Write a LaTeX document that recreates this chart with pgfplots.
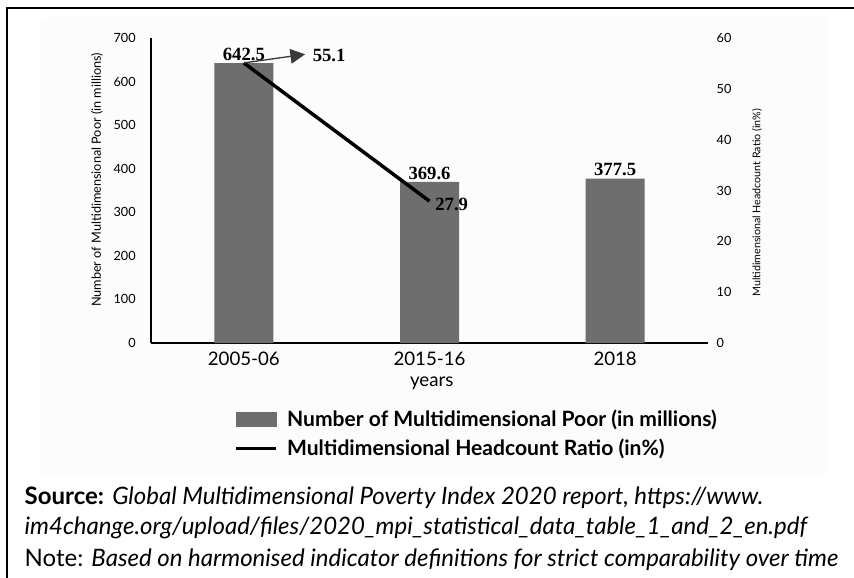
\documentclass[border=0pt]{standalone}
\usepackage{pgfplots}
\pgfplotsset{compat=1.18}
\usepackage{fontspec}
\setmainfont{Lato}
\newfontfamily\serifb{Liberation Serif}
\usetikzlibrary{arrows.meta}
\definecolor{barcol}{HTML}{6E6E6E}
\definecolor{arrcol}{HTML}{3A3A3A}
\begin{document}
\begin{tikzpicture}
\path[use as bounding box] (0,0) rectangle (640.5pt,-433.5pt);
% faint chart area
\fill[black!1, rounded corners=4pt] (30pt,-12.75pt) rectangle (621pt,-356.25pt);
% frame (top and left)
\draw[line width=2.2pt] (5.25pt,-434pt) -- (5.25pt,-6pt) -- (641pt,-6pt);
\begin{axis}[
  at={(113.25pt,-257.25pt)}, anchor=south west,
  scale only axis, width=417.75pt, height=228.75pt,
  xmin=-0.5, xmax=2.5, ymin=0, ymax=700,
  axis x line*=bottom, axis y line*=left,
  axis line style={line width=0.9pt, -},
  xtick={0,1,2}, xticklabels={2005-06,2015-16,2018},
  ytick={0,100,...,700},
  major tick length=0pt,
  /pgf/number format/assume math mode=true,
  xticklabel style={font=\fontsize{14}{16}\selectfont, yshift=-3pt},
  yticklabel style={font=\fontsize{9.5}{11}\selectfont, xshift=-8pt},
  xlabel={years},
  xlabel style={font=\fontsize{14}{16}\selectfont, at={(axis description cs:0.504,-0.132)}, anchor=center},
  ylabel={Number of Multidimensional Poor (in millions)},
  ylabel style={font=\fontsize{9.5}{11}\selectfont, at={(axis description cs:-0.097,0.535)}, anchor=center, rotate=0},
  legend style={at={(axis description cs:0.585,-0.21)}, anchor=north, draw=none, fill=none,
    font=\bfseries\fontsize{15.8}{17}\selectfont, row sep=4pt, column sep=5pt, inner sep=0pt},
  legend cell align=left,
]
\addplot[ybar, bar width=44.25pt, fill=barcol, draw=none, forget plot,
  nodes near coords, nodes near coords style={font=\serifb\bfseries\fontsize{14}{16}\selectfont, anchor=south, inner sep=1.5pt, text=black},
  point meta=explicit symbolic]
  coordinates {(0,642.5)[642.5] (1,369.6)[369.6] (2,377.5)[377.5]};
\addlegendimage{legend image code/.code={\fill[barcol] (0pt,-4.9pt) rectangle (30pt,4.9pt);}}
\addlegendentry{Number of Multidimensional Poor (in millions)}
\addlegendimage{legend image code/.code={\draw[line width=2.6pt, black] (0pt,0pt) -- (30pt,0pt);}}
\addlegendentry{Multidimensional Headcount Ratio (in\%)}
\end{axis}
\begin{axis}[
  at={(113.25pt,-257.25pt)}, anchor=south west,
  scale only axis, width=417.75pt, height=228.75pt,
  xmin=-0.5, xmax=2.5, ymin=0, ymax=60,
  axis y line*=right, axis x line=none,
  y axis line style={draw=none},
  ytick={0,10,...,60},
  major tick length=0pt,
  /pgf/number format/assume math mode=true,
  yticklabel style={font=\fontsize{9.5}{11}\selectfont, xshift=3pt},
  ylabel={Multidimensional Headcount Ratio (in\%)},
  ylabel style={font=\fontsize{8}{10}\selectfont, at={(axis description cs:1.088,0.46)}, anchor=center, rotate=0},
]
\addplot[line width=2.6pt, black] coordinates {(0,55.1) (1,27.9)};
\draw[line width=1pt, arrcol, -{Triangle[length=11pt,width=11pt]}] (axis cs:0,55.1) -- (axis cs:0.33,56.8);
\node[anchor=west, font=\serifb\bfseries\fontsize{14}{16}\selectfont, inner sep=0pt] at (axis cs:0.37,56.5) {55.1};
\node[anchor=west, font=\serifb\bfseries\fontsize{14}{16}\selectfont, inner sep=0pt] at (axis cs:1.03,27.2) {27.9};
\end{axis}
\node[anchor=base west, font=\fontsize{18}{20}\selectfont] at (15pt,-378pt) {\textbf{Source:} \textit{Global Multidimensional Poverty Index 2020 report, https://www.}};
\node[anchor=base west, font=\fontsize{18}{20}\selectfont\itshape] at (15pt,-401pt) {im4change.org/upload/files/2020\_mpi\_statistical\_data\_table\_1\_and\_2\_en.pdf};
\node[anchor=base west, font=\fontsize{18}{20}\selectfont] at (15pt,-425pt) {Note: \textit{Based on harmonised indicator definitions for strict comparability over time}};
\end{tikzpicture}
\end{document}
